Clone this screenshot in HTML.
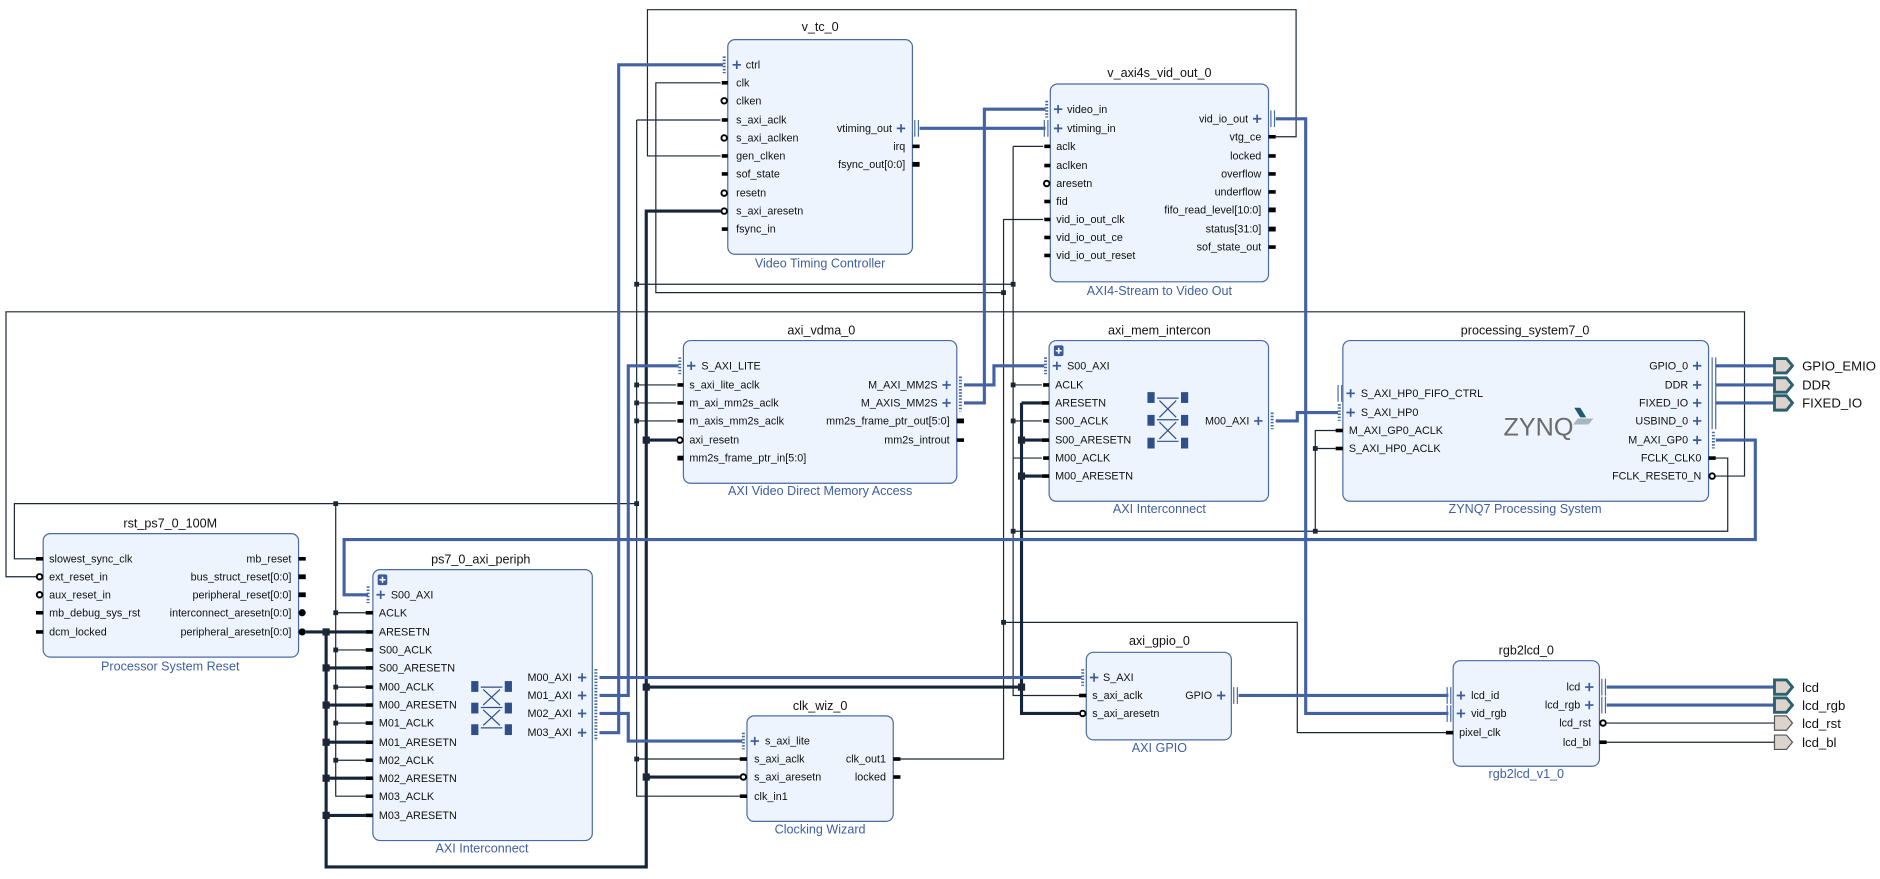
<!DOCTYPE html>
<html><head><meta charset="utf-8"><style>
html,body{margin:0;padding:0;background:#fff;}
svg{display:block}
text{font-family:"Liberation Sans",sans-serif;font-size:9px;fill:#111}
.ttl{font-size:10.5px}
.sub{font-size:10.5px;fill:#3d5fa3}
.r{text-anchor:end}
.c{text-anchor:middle}
.w{stroke:#1b2735;stroke-width:1;fill:none}
.k{stroke:#15253a;stroke-width:2.6;fill:none}
.b{stroke:#4262a3;stroke-width:2.6;fill:none}
.box{fill:#edf4fd;stroke:#4a6aa5;stroke-width:1}
.o{fill:#fff;stroke:#000;stroke-width:1.6}
.pl{stroke:#3b5a9a;stroke-width:1.4;fill:none}
.dt{stroke:#4a6aa5;stroke-width:2.5;stroke-dasharray:1.3,1.3;fill:none}
.br{stroke:#4a6aa5;stroke-width:1;fill:none}
.ep{fill:#dcd3cd;stroke:#2b6070;stroke-width:2.4}
.eg{fill:#dcd3cd;stroke:#555;stroke-width:1}
</style></head><body>
<svg width="1880" height="879" viewBox="0 0 1568 733" xmlns="http://www.w3.org/2000/svg">
<rect x="0" y="0" width="1568" height="733" fill="#fff"/>
<!-- thin wires -->
<g class="w">
<path d="M1064 114 H1081 V8 H540 V130 H601"/>
<path d="M1431 397 H1455 V260 H5 V481 H30"/>
<path d="M30 466 H12 V420 H531"/>
<path d="M1431 382 H1441 V443 H845"/>
<path d="M1097 443 V359 H1114 M1097 374 H1114"/>
<path d="M845 122 H870 M845 122 V580 H900 M531 237 H845 M845 321 H869 M845 351 H869 M845 382 H869"/>
<path d="M531 100 V664 H617 M531 100 H601 M531 321 H564 M531 336 H564 M531 351 H564 M531 633 H617"/>
<path d="M280 420 V664 H305 M280 511 H305 M280 542 H305 M280 573 H305 M280 603 H305 M280 634 H305"/>
<path d="M751 633 H837 V183 H870 M837 244 H547 V69 H601 M837 519 H1082 V611 H1206"/>
</g>
<!-- thick resets -->
<g class="k">
<path d="M255 527 H305 M272 527 V723 H539 V176 H601"/>
<path d="M272 557 H305 M272 588 H305 M272 619 H305 M272 649 H305 M272 680 H305"/>
<path d="M539 367 H564 M539 573 H852 M539 648 H617"/>
<path d="M852 336 V595 H900 M852 336 H869 M852 367 H869 M852 397 H869"/>
</g>
<!-- blue buses -->
<g class="b">
<path d="M500 611 H516 V54 H603"/>
<path d="M500 580 H524 V305 H566"/>
<path d="M500 595 H524 V618 H619"/>
<path d="M500 565 H902"/>
<path d="M767 107 H872"/>
<path d="M804 336 H821 V91 H872"/>
<path d="M804 321 H829 V305 H871"/>
<path d="M1064 351 H1082 V344 H1116"/>
<path d="M1064 99 H1089 V595 H1208"/>
<path d="M1033 580 H1208"/>
<path d="M1431 305 H1480 M1431 321 H1480 M1431 336 H1480"/>
<path d="M1340 573 H1480 M1340 588 H1480"/>
<path d="M1431 367 H1464 V450 H287 V496 H307"/>
</g>
<path class="w" d="M1340 603 H1480 M1340 619 H1480"/>
<!-- junctions -->
<g fill="#1b2735">
<rect x="529" y="235" width="4" height="4"/><rect x="843" y="235" width="4" height="4"/>
<rect x="835" y="242" width="4" height="4"/><rect x="835" y="517" width="4" height="4"/>
<rect x="1095" y="441" width="4" height="4"/><rect x="1095" y="372" width="4" height="4"/>
<rect x="843" y="441" width="4" height="4"/><rect x="843" y="319" width="4" height="4"/><rect x="843" y="349" width="4" height="4"/>
<rect x="529" y="418" width="4" height="4"/><rect x="278" y="418" width="4" height="4"/>
<rect x="529" y="319" width="4" height="4"/><rect x="529" y="334" width="4" height="4"/><rect x="529" y="349" width="4" height="4"/><rect x="529" y="631" width="4" height="4"/>
<rect x="278" y="509" width="4" height="4"/><rect x="278" y="540" width="4" height="4"/><rect x="278" y="571" width="4" height="4"/><rect x="278" y="601" width="4" height="4"/><rect x="278" y="632" width="4" height="4"/>
<rect x="269" y="524" width="6" height="6"/><rect x="269" y="554" width="6" height="6"/><rect x="269" y="585" width="6" height="6"/><rect x="269" y="616" width="6" height="6"/><rect x="269" y="646" width="6" height="6"/><rect x="269" y="677" width="6" height="6"/>
<rect x="536" y="364" width="6" height="6"/><rect x="536" y="570" width="6" height="6"/><rect x="536" y="645" width="6" height="6"/>
<rect x="849" y="364" width="6" height="6"/><rect x="849" y="394" width="6" height="6"/><rect x="849" y="570" width="6" height="6"/>
</g>

<!-- ===== v_tc_0 ===== -->
<text class="ttl c" x="684" y="26">v_tc_0</text>
<rect class="box" x="607" y="33" width="154" height="179" rx="6"/>
<text class="sub c" x="684" y="223">Video Timing Controller</text>
<g fill="#000">
<rect x="602" y="67.5" width="5" height="3"/><rect x="602" y="98.5" width="5" height="3"/><rect x="602" y="128.5" width="5" height="3"/><rect x="602" y="143.5" width="5" height="3"/><rect x="602" y="189.5" width="5" height="3"/>
<rect x="761" y="120.5" width="6" height="3"/><rect x="761" y="135" width="6" height="4"/>
</g>
<circle class="o" cx="604" cy="84" r="2.3"/><circle class="o" cx="604" cy="115" r="2.3"/><circle class="o" cx="604" cy="161" r="2.3"/><circle class="o" cx="604" cy="176" r="2.3"/>
<path class="dt" d="M604 47 V61"/><path class="pl" d="M611 54 H618 M614.5 50.5 V57.5"/>
<text x="622" y="57">ctrl</text><text x="614" y="72">clk</text><text x="614" y="87">clken</text><text x="614" y="103">s_axi_aclk</text><text x="614" y="118">s_axi_aclken</text><text x="614" y="133">gen_clken</text><text x="614" y="148">sof_state</text><text x="614" y="164">resetn</text><text x="614" y="179">s_axi_aresetn</text><text x="614" y="194">fsync_in</text>
<path class="br" d="M763 100 V114 M766 100 V114"/><path class="pl" d="M748 107 H755 M751.5 103.5 V110.5"/>
<text class="r" x="744" y="110">vtiming_out</text><text class="r" x="755" y="125">irq</text><text class="r" x="755" y="140">fsync_out[0:0]</text>

<!-- ===== v_axi4s_vid_out_0 ===== -->
<text class="ttl c" x="967" y="64">v_axi4s_vid_out_0</text>
<rect class="box" x="876" y="70" width="182" height="165" rx="6"/>
<text class="sub c" x="967" y="246">AXI4-Stream to Video Out</text>
<g fill="#000">
<rect x="871" y="120.5" width="5" height="3"/><rect x="871" y="136.5" width="5" height="3"/><rect x="871" y="166.5" width="5" height="3"/><rect x="871" y="181.5" width="5" height="3"/><rect x="871" y="196.5" width="5" height="3"/><rect x="871" y="211.5" width="5" height="3"/>
<rect x="1058" y="112.5" width="6" height="3"/><rect x="1058" y="128.5" width="6" height="3"/><rect x="1058" y="143.5" width="6" height="3"/><rect x="1058" y="158.5" width="6" height="3"/><rect x="1058" y="173" width="6" height="4"/><rect x="1058" y="189" width="6" height="4"/><rect x="1058" y="204.5" width="6" height="3"/>
</g>
<circle class="o" cx="873" cy="153" r="2.3"/>
<path class="dt" d="M873 84 V98"/><path class="br" d="M871 100 V114 M874 100 V114"/>
<path class="pl" d="M879 91 H886 M882.5 87.5 V94.5 M879 107 H886 M882.5 103.5 V110.5"/>
<text x="890" y="94">video_in</text><text x="890" y="110">vtiming_in</text>
<text x="881" y="125">aclk</text><text x="881" y="141">aclken</text><text x="881" y="156">aresetn</text><text x="881" y="171">fid</text><text x="881" y="186">vid_io_out_clk</text><text x="881" y="201">vid_io_out_ce</text><text x="881" y="216">vid_io_out_reset</text>
<path class="br" d="M1060 92 V106 M1063 92 V106"/><path class="pl" d="M1045 99 H1052 M1048.5 95.5 V102.5"/>
<text class="r" x="1041" y="102">vid_io_out</text><text class="r" x="1052" y="117">vtg_ce</text><text class="r" x="1052" y="133">locked</text><text class="r" x="1052" y="148">overflow</text><text class="r" x="1052" y="163">underflow</text><text class="r" x="1052" y="178">fifo_read_level[10:0]</text><text class="r" x="1052" y="194">status[31:0]</text><text class="r" x="1052" y="209">sof_state_out</text>

<!-- ===== axi_vdma_0 ===== -->
<text class="ttl c" x="685" y="279">axi_vdma_0</text>
<rect class="box" x="570" y="284" width="228" height="119" rx="6"/>
<text class="sub c" x="684" y="413">AXI Video Direct Memory Access</text>
<g fill="#000">
<rect x="565" y="319.5" width="5" height="3"/><rect x="565" y="334.5" width="5" height="3"/><rect x="565" y="349.5" width="5" height="3"/><rect x="565" y="380" width="5" height="4"/>
<rect x="798" y="349" width="6" height="4"/><rect x="798" y="365.5" width="6" height="3"/>
</g>
<circle class="o" cx="567" cy="367" r="2.3"/>
<path class="dt" d="M567 298 V312"/><path class="pl" d="M573 305 H580 M576.5 301.5 V308.5"/>
<text x="585" y="308">S_AXI_LITE</text><text x="575" y="324">s_axi_lite_aclk</text><text x="575" y="339">m_axi_mm2s_aclk</text><text x="575" y="354">m_axis_mm2s_aclk</text><text x="575" y="370">axi_resetn</text><text x="575" y="385">mm2s_frame_ptr_in[5:0]</text>
<path class="dt" d="M801 314 V343"/><path class="pl" d="M786 321 H793 M789.5 317.5 V324.5 M786 336 H793 M789.5 332.5 V339.5"/>
<text class="r" x="782" y="324">M_AXI_MM2S</text><text class="r" x="782" y="339">M_AXIS_MM2S</text><text class="r" x="792" y="354">mm2s_frame_ptr_out[5:0]</text><text class="r" x="792" y="370">mm2s_introut</text>

<!-- ===== axi_mem_intercon ===== -->
<text class="ttl c" x="967" y="279">axi_mem_intercon</text>
<rect class="box" x="875" y="284" width="183" height="134" rx="6"/>
<text class="sub c" x="967" y="428">AXI Interconnect</text>
<rect x="879" y="288" width="8" height="9" rx="1.5" fill="#3b5a9a"/><path d="M880.5 292.5 H885.5 M883 290 V295" stroke="#fff" stroke-width="1.3"/>
<g fill="#000">
<rect x="870" y="319.5" width="5" height="3"/><rect x="870" y="349.5" width="5" height="3"/><rect x="870" y="380.5" width="5" height="3"/>
<rect x="869" y="334.5" width="6" height="3"/><rect x="869" y="365.5" width="6" height="3"/><rect x="869" y="395.5" width="6" height="3"/>
</g>
<path class="dt" d="M872 298 V312"/><path class="pl" d="M878 305 H885 M881.5 301.5 V308.5"/>
<text x="890" y="308">S00_AXI</text><text x="880" y="324">ACLK</text><text x="880" y="339">ARESETN</text><text x="880" y="354">S00_ACLK</text><text x="880" y="370">S00_ARESETN</text><text x="880" y="385">M00_ACLK</text><text x="880" y="400">M00_ARESETN</text>
<g fill="#2f4f8a"><rect x="957" y="327" width="6" height="9"/><rect x="957" y="346" width="6" height="9"/><rect x="957" y="365" width="6" height="9"/><rect x="985" y="327" width="6" height="9"/><rect x="985" y="346" width="6" height="9"/><rect x="985" y="365" width="6" height="9"/></g>
<path d="M965 332 H983 M965 350 H983 M965 368 H983 M967 334 L981 348 M981 334 L967 348 M967 352 L981 366 M981 352 L967 366" stroke="#2f4f8a" stroke-width="1" fill="none"/>
<path class="dt" d="M1061 344 V358"/><path class="pl" d="M1046 351 H1053 M1049.5 347.5 V354.5"/>
<text class="r" x="1042" y="354">M00_AXI</text>

<!-- ===== processing_system7_0 ===== -->
<text class="ttl c" x="1272" y="279">processing_system7_0</text>
<rect class="box" x="1120" y="284" width="305" height="134" rx="6"/>
<text class="sub c" x="1272" y="428">ZYNQ7 Processing System</text>
<g fill="#000"><rect x="1114" y="357.5" width="6" height="3"/><rect x="1114" y="372.5" width="6" height="3"/><rect x="1425" y="380.5" width="6" height="3"/></g>
<circle class="o" cx="1428" cy="397" r="2.3"/>
<path class="br" d="M1116 321 V335 M1119 321 V335"/><path class="dt" d="M1117 337 V351"/>
<path class="pl" d="M1123 328 H1130 M1126.5 324.5 V331.5 M1123 344 H1130 M1126.5 340.5 V347.5"/>
<text x="1135" y="331">S_AXI_HP0_FIFO_CTRL</text><text x="1135" y="347">S_AXI_HP0</text><text x="1125" y="362">M_AXI_GP0_ACLK</text><text x="1125" y="377">S_AXI_HP0_ACLK</text>
<path class="br" d="M1428 298 V358 M1431 298 V358"/><path class="dt" d="M1429 360 V374"/>
<path class="pl" d="M1412 305 H1419 M1415.5 301.5 V308.5 M1412 321 H1419 M1415.5 317.5 V324.5 M1412 336 H1419 M1415.5 332.5 V339.5 M1412 351 H1419 M1415.5 347.5 V354.5 M1412 367 H1419 M1415.5 363.5 V370.5"/>
<text class="r" x="1408" y="308">GPIO_0</text><text class="r" x="1408" y="324">DDR</text><text class="r" x="1408" y="339">FIXED_IO</text><text class="r" x="1408" y="354">USBIND_0</text><text class="r" x="1408" y="370">M_AXI_GP0</text><text class="r" x="1419" y="385">FCLK_CLK0</text><text class="r" x="1419" y="400">FCLK_RESET0_N</text>
<text x="1254" y="363" style="font-size:21px;fill:#6b6b6b">ZYNQ</text>
<path d="M1313 340 L1318 340 L1323 348 L1318 348 Z" fill="#1e5a72"/><path d="M1316 349 L1329 349 L1325 354 L1312 354 Z" fill="#a9b6bf"/>
<!-- external ports -->
<polygon class="ep" points="1480,299 1490,299 1495,305 1490,311 1480,311"/>
<polygon class="ep" points="1480,315 1490,315 1495,321 1490,327 1480,327"/>
<polygon class="ep" points="1480,330 1490,330 1495,336 1490,342 1480,342"/>
<text x="1503" y="309" style="font-size:11px">GPIO_EMIO</text><text x="1503" y="325" style="font-size:11px">DDR</text><text x="1503" y="340" style="font-size:11px">FIXED_IO</text>

<!-- ===== rst_ps7_0_100M ===== -->
<text class="ttl c" x="142" y="440">rst_ps7_0_100M</text>
<rect class="box" x="36" y="445" width="213" height="103" rx="6"/>
<text class="sub c" x="142" y="559">Processor System Reset</text>
<g fill="#000">
<rect x="30" y="464.5" width="6" height="3"/><rect x="30" y="509.5" width="6" height="3"/><rect x="30" y="525.5" width="6" height="3"/>
<rect x="249" y="464.5" width="6" height="3"/><rect x="249" y="479" width="6" height="4"/><rect x="249" y="494" width="6" height="4"/>
</g>
<circle class="o" cx="33" cy="481" r="2.3"/><circle class="o" cx="33" cy="496" r="2.3"/>
<circle cx="252" cy="511" r="3" fill="#000"/><circle cx="252" cy="527" r="3" fill="#000"/>
<text x="41" y="469">slowest_sync_clk</text><text x="41" y="484">ext_reset_in</text><text x="41" y="499">aux_reset_in</text><text x="41" y="514">mb_debug_sys_rst</text><text x="41" y="530">dcm_locked</text>
<text class="r" x="243" y="469">mb_reset</text><text class="r" x="243" y="484">bus_struct_reset[0:0]</text><text class="r" x="243" y="499">peripheral_reset[0:0]</text><text class="r" x="243" y="514">interconnect_aresetn[0:0]</text><text class="r" x="243" y="530">peripheral_aresetn[0:0]</text>

<!-- ===== ps7_0_axi_periph ===== -->
<text class="ttl c" x="401" y="470">ps7_0_axi_periph</text>
<rect class="box" x="311" y="475" width="183" height="226" rx="6"/>
<text class="sub c" x="402" y="711">AXI Interconnect</text>
<rect x="315" y="479" width="8" height="9" rx="1.5" fill="#3b5a9a"/><path d="M316.5 483.5 H321.5 M319 481 V486" stroke="#fff" stroke-width="1.3"/>
<g fill="#000">
<rect x="305" y="509.5" width="6" height="3"/><rect x="305" y="540.5" width="6" height="3"/><rect x="305" y="571.5" width="6" height="3"/><rect x="305" y="601.5" width="6" height="3"/><rect x="305" y="632.5" width="6" height="3"/><rect x="305" y="662.5" width="6" height="3"/>
<rect x="305" y="525.5" width="6" height="3"/><rect x="305" y="555.5" width="6" height="3"/><rect x="305" y="586.5" width="6" height="3"/><rect x="305" y="617.5" width="6" height="3"/><rect x="305" y="647.5" width="6" height="3"/><rect x="305" y="678.5" width="6" height="3"/>
</g>
<path class="dt" d="M307 489 V503"/><path class="pl" d="M314 496 H321 M317.5 492.5 V499.5"/>
<text x="326" y="499">S00_AXI</text><text x="316" y="514">ACLK</text><text x="316" y="530">ARESETN</text><text x="316" y="545">S00_ACLK</text><text x="316" y="560">S00_ARESETN</text><text x="316" y="576">M00_ACLK</text><text x="316" y="591">M00_ARESETN</text><text x="316" y="606">M01_ACLK</text><text x="316" y="622">M01_ARESETN</text><text x="316" y="637">M02_ACLK</text><text x="316" y="652">M02_ARESETN</text><text x="316" y="667">M03_ACLK</text><text x="316" y="683">M03_ARESETN</text>
<g fill="#2f4f8a"><rect x="393" y="568" width="6" height="9"/><rect x="393" y="586" width="6" height="9"/><rect x="393" y="604" width="6" height="9"/><rect x="421" y="568" width="6" height="9"/><rect x="421" y="586" width="6" height="9"/><rect x="421" y="604" width="6" height="9"/></g>
<path d="M401 573 H419 M401 590 H419 M401 607 H419 M403 575 L417 588 M417 575 L403 588 M403 592 L417 605 M417 592 L403 605" stroke="#2f4f8a" stroke-width="1" fill="none"/>
<path class="dt" d="M497 558 V618"/>
<path class="pl" d="M482 565 H489 M485.5 561.5 V568.5 M482 580 H489 M485.5 576.5 V583.5 M482 595 H489 M485.5 591.5 V598.5 M482 611 H489 M485.5 607.5 V614.5"/>
<text class="r" x="477" y="568">M00_AXI</text><text class="r" x="477" y="583">M01_AXI</text><text class="r" x="477" y="598">M02_AXI</text><text class="r" x="477" y="614">M03_AXI</text>

<!-- ===== clk_wiz_0 ===== -->
<text class="ttl c" x="684" y="592">clk_wiz_0</text>
<rect class="box" x="623" y="597" width="122" height="88" rx="6"/>
<text class="sub c" x="684" y="695">Clocking Wizard</text>
<g fill="#000"><rect x="617" y="631.5" width="6" height="3"/><rect x="617" y="662.5" width="6" height="3"/><rect x="745" y="631.5" width="6" height="3"/><rect x="745" y="646.5" width="6" height="3"/></g>
<circle class="o" cx="620" cy="648" r="2.3"/>
<path class="dt" d="M620 611 V625"/><path class="pl" d="M626 618 H633 M629.5 614.5 V621.5"/>
<text x="638" y="621">s_axi_lite</text><text x="629" y="636">s_axi_aclk</text><text x="629" y="651">s_axi_aresetn</text><text x="629" y="667">clk_in1</text>
<text class="r" x="739" y="636">clk_out1</text><text class="r" x="739" y="651">locked</text>

<!-- ===== axi_gpio_0 ===== -->
<text class="ttl c" x="967" y="538">axi_gpio_0</text>
<rect class="box" x="906" y="544" width="121" height="73" rx="6"/>
<text class="sub c" x="967" y="627">AXI GPIO</text>
<g fill="#000"><rect x="900" y="578.5" width="6" height="3"/></g>
<circle class="o" cx="903" cy="595" r="2.3"/>
<path class="dt" d="M903 558 V572"/><path class="pl" d="M909 565 H916 M912.5 561.5 V568.5"/>
<text x="920" y="568">S_AXI</text><text x="911" y="583">s_axi_aclk</text><text x="911" y="598">s_axi_aresetn</text>
<path class="br" d="M1029 573 V587 M1032 573 V587"/><path class="pl" d="M1015 580 H1022 M1018.5 576.5 V583.5"/>
<text class="r" x="1011" y="583">GPIO</text>

<!-- ===== rgb2lcd_0 ===== -->
<text class="ttl c" x="1273" y="546">rgb2lcd_0</text>
<rect class="box" x="1212" y="551" width="122" height="88" rx="6"/>
<text class="sub c" x="1273" y="649">rgb2lcd_v1_0</text>
<g fill="#000"><rect x="1206" y="609.5" width="6" height="3"/><rect x="1334" y="617.5" width="6" height="3"/></g>
<circle class="o" cx="1337" cy="603" r="2.3"/>
<path class="br" d="M1207 573 V587 M1210 573 V587 M1207 588 V602 M1210 588 V602"/>
<path class="pl" d="M1215 580 H1222 M1218.5 576.5 V583.5 M1215 595 H1222 M1218.5 591.5 V598.5"/>
<text x="1227" y="583">lcd_id</text><text x="1227" y="598">vid_rgb</text><text x="1217" y="614">pixel_clk</text>
<path class="br" d="M1336 566 V580 M1339 566 V580 M1336 581 V595 M1339 581 V595"/>
<path class="pl" d="M1322 573 H1329 M1325.5 569.5 V576.5 M1322 588 H1329 M1325.5 584.5 V591.5"/>
<text class="r" x="1318" y="576">lcd</text><text class="r" x="1318" y="591">lcd_rgb</text><text class="r" x="1327" y="606">lcd_rst</text><text class="r" x="1327" y="622">lcd_bl</text>
<polygon class="ep" points="1480,567 1490,567 1495,573 1490,579 1480,579"/>
<polygon class="ep" points="1480,582 1490,582 1495,588 1490,594 1480,594"/>
<polygon class="eg" points="1480,597 1490,597 1495,603 1490,609 1480,609"/>
<polygon class="eg" points="1480,613 1490,613 1495,619 1490,625 1480,625"/>
<text x="1503" y="577" style="font-size:11px">lcd</text><text x="1503" y="592" style="font-size:11px">lcd_rgb</text><text x="1503" y="607" style="font-size:11px">lcd_rst</text><text x="1503" y="623" style="font-size:11px">lcd_bl</text>
</svg>
</body></html>
